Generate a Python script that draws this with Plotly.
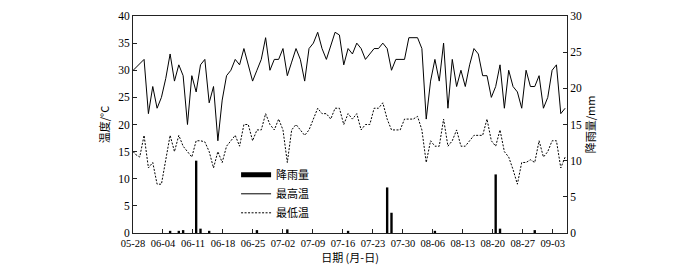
import numpy as np
import plotly.graph_objects as go

# x tick labels (weekly, month-day)
tick_labels = ["05-28", "06-04", "06-11", "06-18", "06-25", "07-02", "07-09", "07-16",
               "07-23", "07-30", "08-06", "08-13", "08-20", "08-27", "09-03"]

# daily maximum temperature (°C)
t_max = [29.6,
         30.4, 31.2, 32, 22, 27, 23, 25, 28.5, 33, 28,
         31, 29, 20, 29, 26, 31, 32, 24, 27, 17,
         24.5, 29, 30, 32, 31, 34, 31, 28, 30, 32,
         36, 30, 32, 32, 34, 29, 31.5, 34, 32, 28,
         34, 35, 37, 34, 32, 34.5, 37, 36.5, 31, 34,
         33, 35, 34, 32, 33, 34, 34, 35, 34, 30,
         32, 32, 32, 36, 36, 36, 34, 21, 28, 32,
         28, 35, 23, 32, 27, 30, 27, 31, 34, 33,
         29, 29, 25, 27, 31, 23, 30, 27, 26, 23,
         30, 27, 27, 29, 23, 25, 30, 31, 22, 23]

# daily minimum temperature (°C)
t_min = [15.5,
         14.5, 14, 18, 12, 13, 9, 9, 13.5, 18, 15,
         18, 16, 15, 14, 17, 17, 16.8, 15, 12, 15,
         13, 16, 17, 18, 16, 20, 20, 17, 19, 19,
         22, 20, 19, 21, 19, 13, 19, 20, 19, 18,
         19, 21, 23, 22, 22, 21, 23, 23, 20, 22,
         21, 22, 19, 20, 20, 23, 23, 24, 21, 19,
         19, 19, 21, 21, 21, 21.5, 19, 13, 17, 16,
         16, 21, 16, 17, 19, 16, 16, 17, 18, 18,
         18, 21, 17, 16, 19, 15, 14, 11.7, 9, 13,
         13, 13.5, 13, 17, 14, 15, 17, 17, 12, 14]

# daily rainfall (mm)
rain = [0,
        0, 0, 0, 0, 0, 0, 0, 0, 0.3, 0,
        0.3, 0.4, 0, 0, 10, 0.6, 0, 0.3, 0, 0,
        0, 0, 0, 0, 0, 0, 0, 0, 0.4, 0,
        0, 0, 0, 0, 0, 0.5, 0, 0, 0, 0,
        0, 0, 0, 0, 0, 0, 0, 0, 0, 0.3,
        0, 0, 0, 0, 0, 0, 0, 0, 6.3, 2.8,
        0, 0, 0, 0, 0, 0, 0, 0, 0, 0.3,
        0, 0, 0, 0, 0, 0, 0, 0, 0, 0,
        0, 0, 0, 8.1, 0.6, 0, 0, 0, 0, 0,
        0, 0, 0.4, 0, 0, 0, 0, 0, 0, 0]

day = np.arange(len(t_max)) - 1
tick_pos = -0.55 + 6.908 * np.arange(len(tick_labels))

FONT = "Liberation Serif"
CJK = "Noto Sans CJK SC"

fig = go.Figure()
fig.add_bar(x=day, y=rain, yaxis="y2", marker=dict(color="black", line=dict(width=0)),
            width=0.55, showlegend=False, name="降雨量")
fig.add_scatter(x=[None], y=[None], mode="lines", name="降雨量",
                line=dict(color="black", width=5))
fig.add_scatter(x=day, y=t_max, mode="lines", name="最高温",
                line=dict(color="black", width=1))
fig.add_scatter(x=day, y=t_min, mode="lines", name="最低温",
                line=dict(color="black", width=1, dash="2px,1.5px"))

axis_common = dict(showline=True, linecolor="#222", linewidth=1, ticks="inside",
                   ticklen=4, tickcolor="#222", showgrid=False, zeroline=False)

fig.update_layout(
    width=700, height=270,
    margin=dict(l=133, r=133, t=10, b=36),
    paper_bgcolor="white", plot_bgcolor="white",
    font=dict(family=FONT, size=11, color="black"),
    xaxis=dict(range=[-0.55, 99.43], tickmode="array", tickvals=tick_pos, ticktext=tick_labels,
               mirror=True, tickfont=dict(family=FONT, size=10.5),
               title=dict(text="日期 (月-日)", font=dict(family=CJK, size=11), standoff=4),
               **axis_common),
    yaxis=dict(range=[0, 40], dtick=5, tickfont=dict(family=FONT, size=11.5),
               title=dict(text="温度/°C", font=dict(family=CJK, size=11), standoff=6),
               **axis_common),
    yaxis2=dict(range=[0, 30], dtick=5, overlaying="y", side="right",
                tickfont=dict(family=FONT, size=11.5),
                title=dict(text="降雨量/mm", font=dict(family=CJK, size=11), standoff=4),
                **axis_common),
    legend=dict(x=0.2375, y=0.335, xanchor="left", yanchor="top", bgcolor="rgba(0,0,0,0)",
                font=dict(family=CJK, size=11), borderwidth=0),
    showlegend=True,
)

fig.write_html("out.html")
